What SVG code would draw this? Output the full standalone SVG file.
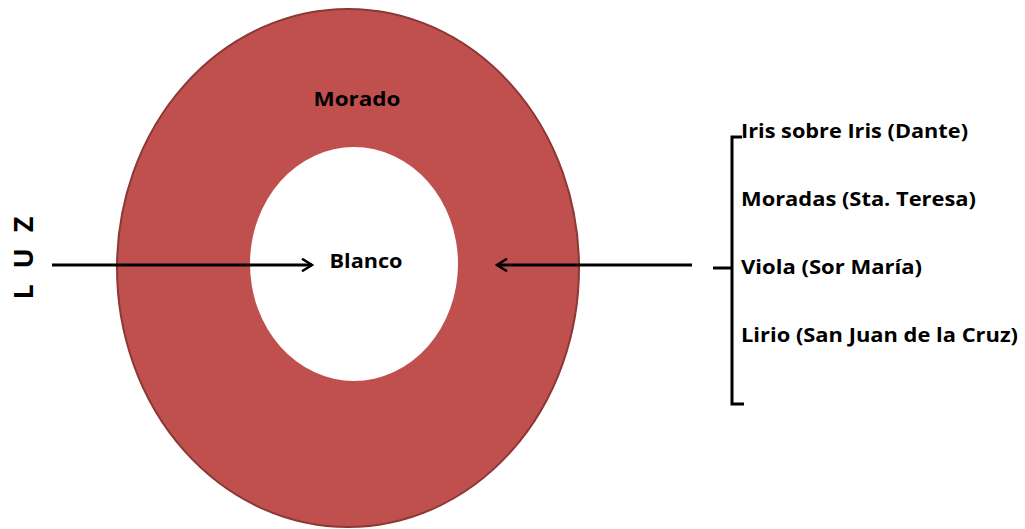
<svg xmlns="http://www.w3.org/2000/svg" width="1025" height="529" viewBox="0 0 1025 529">
<style>
.t{font-family:"Open Sans","Liberation Sans",sans-serif;font-weight:bold;font-size:19.5px;fill:#000}
.ln{stroke:#000;stroke-width:3;fill:none}
</style>
<defs>
<marker id="ah" viewBox="0 0 12 12" refX="10" refY="6" markerWidth="5" markerHeight="5" orient="auto" markerUnits="strokeWidth">
<path d="M2,1 L10,6 L2,11" fill="none" stroke="#000" stroke-width="2"/>
</marker>
</defs>
<rect width="1025" height="529" fill="#fff"/>
<g id="morado">
<ellipse cx="348" cy="268" rx="231" ry="259" fill="#c0504d" stroke="#8c3836" stroke-width="2"/>
<text class="t" x="357" y="106" text-anchor="middle" textLength="87" lengthAdjust="spacingAndGlyphs">Morado</text>
</g>
<g id="blanco">
<ellipse cx="354" cy="264" rx="104" ry="117" fill="#fff"/>
<text class="t" x="366" y="268" text-anchor="middle" textLength="73" lengthAdjust="spacingAndGlyphs">Blanco</text>
</g>
<g id="luz">
<text class="t" transform="translate(33,258) rotate(-90)" text-anchor="middle" textLength="83" style="font-size:27px">LUZ</text>
</g>
<g id="connectors">
<line class="ln" x1="52" y1="265" x2="312" y2="265" marker-end="url(#ah)"/>
<line class="ln" x1="692" y1="265" x2="497" y2="265" marker-end="url(#ah)"/>
</g>
<g id="bracket">
<path class="ln" d="M742,137 L732,137 L732,404 L744,404 M732,268 L713,268"/>
</g>
<g id="list">
<text class="t" x="741" y="138" textLength="227" lengthAdjust="spacingAndGlyphs">Iris sobre Iris (Dante)</text>
<text class="t" x="741" y="206" textLength="235" lengthAdjust="spacingAndGlyphs">Moradas (Sta. Teresa)</text>
<text class="t" x="741" y="274" textLength="181" lengthAdjust="spacingAndGlyphs">Viola (Sor María)</text>
<text class="t" x="741" y="342" textLength="277" lengthAdjust="spacingAndGlyphs">Lirio (San Juan de la Cruz)</text>
</g>
</svg>
